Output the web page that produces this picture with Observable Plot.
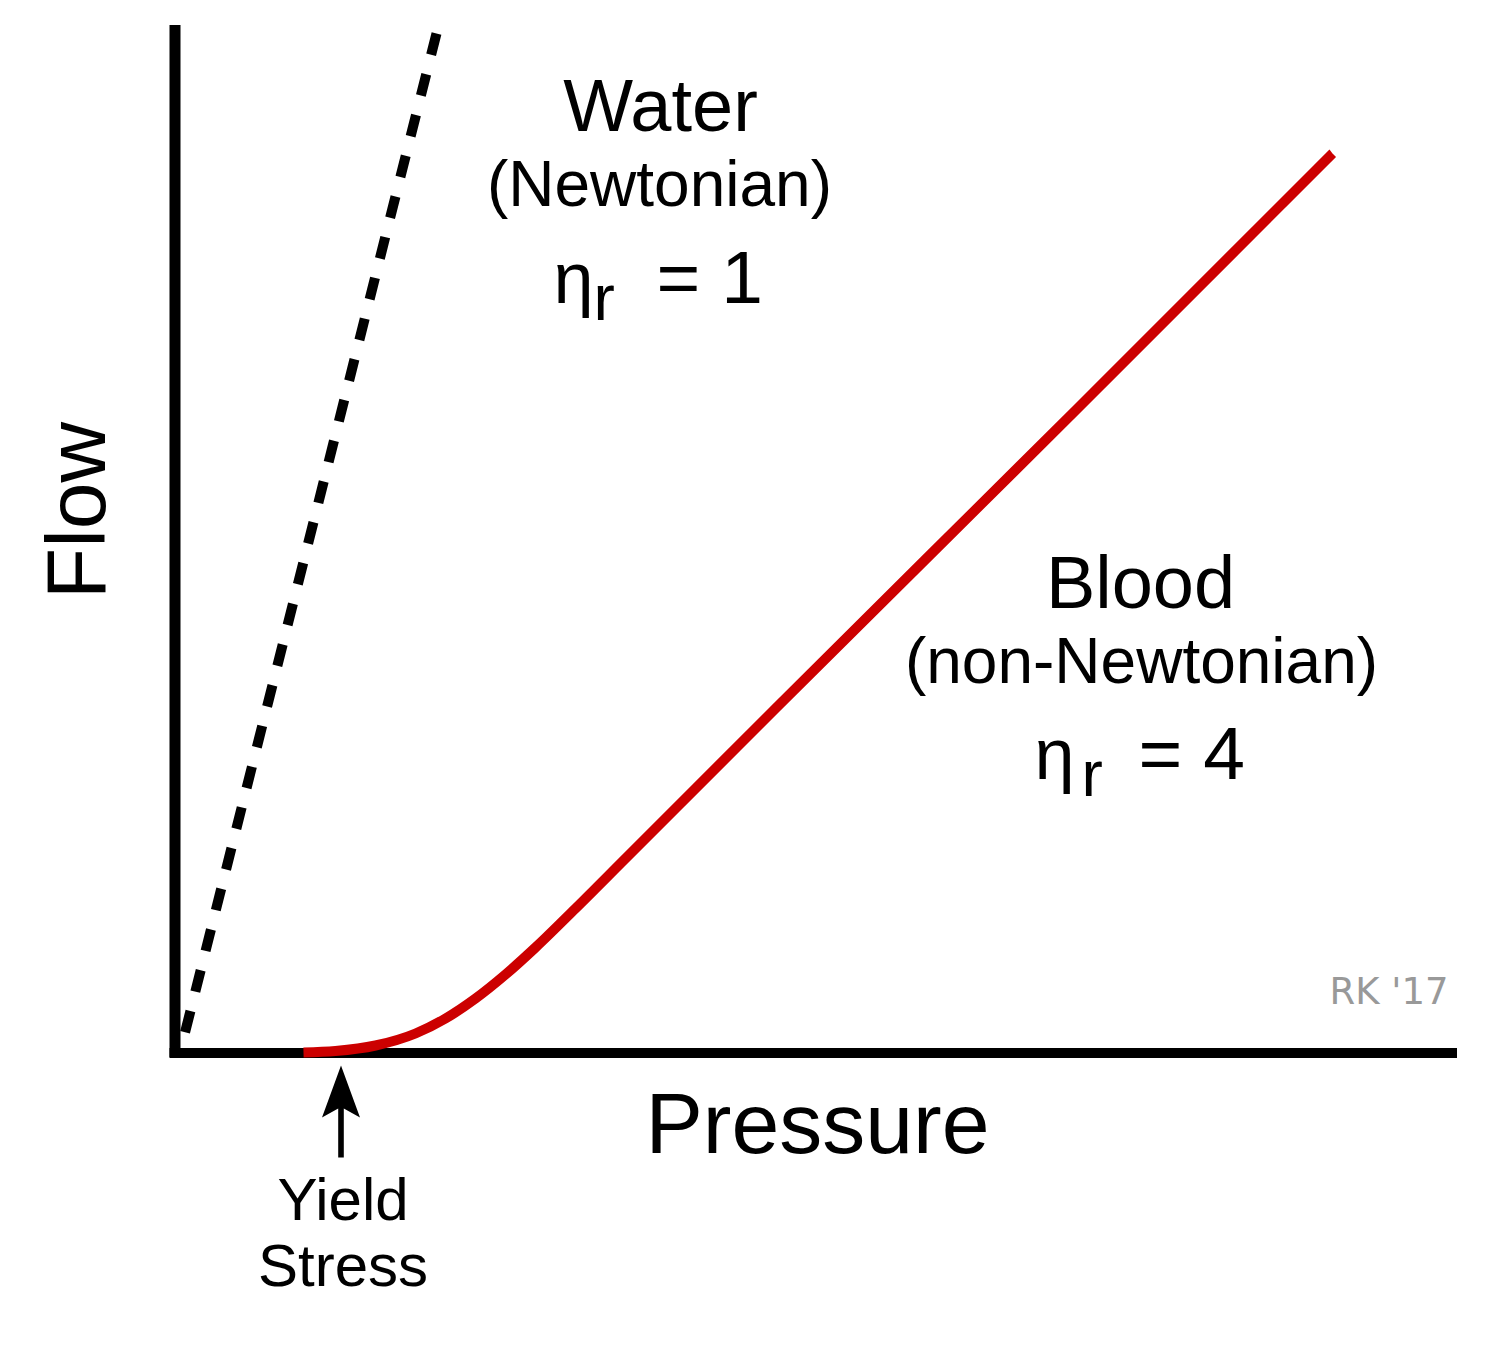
<!DOCTYPE html>
<html>
<head>
<meta charset="utf-8">
<script src="https://cdn.jsdelivr.net/npm/d3@7"></script>
<script src="https://cdn.jsdelivr.net/npm/@observablehq/plot@0.6"></script>
<style>
  html, body { margin: 0; padding: 0; background: #fff; }
  #chart svg { display: block; }
</style>
</head>
<body>
<div id="chart"></div>
<script>
// ---- data (pressure / flow in arbitrary units) ----
const waterPressure = [26.1, 0.55];
const waterFlow     = [101.9, 0.4];

const bloodPressure = [12.8, 16.0, 20.0, 24.0, 27.0, 30.0, 33.0, 36.0, 40.0, 45.0, 60.0, 90.0, 115.7];
const bloodFlow     = [0.0,  0.15, 0.7,  1.9,  3.4,  5.4,  7.8, 10.5, 14.4, 19.4, 34.4, 64.2, 89.9];

// annotation labels
const labelText = ["Water", "(Newtonian)", "Blood", "(non-Newtonian)"];
const labelX    = [48.5, 48.4, 96.5, 96.6];
const labelY    = [92.2, 84.7, 44.5, 37.0];
const labelSize = [74, 64, 74, 64];

const etaText = ["η", "η"];
const etaX    = [37.8, 85.9];
const etaY    = [75.0, 27.4];
const subText = ["r", "r"];
const subX    = [41.8, 90.6];
const subY    = [73.3, 25.7];
const eqText  = ["= 1", "= 4"];
const eqX     = [48.1, 96.3];
const eqY     = [75.0, 27.4];

const yieldText = "Yield\nStress";
const yieldX    = 16.75;
const yieldY    = -23.3;

const xTitle = "Pressure";
const yTitle = "Flow";
const credit = "RK '17";

// ---- tables built from arrays ----
const water = waterPressure.map((p, i) => ({p, f: waterFlow[i]}));
const blood = bloodPressure.map((p, i) => ({p, f: bloodFlow[i]}));
const labels = labelText.map((t, i) => ({t, x: labelX[i], y: labelY[i], s: labelSize[i]}));
const etas = etaText.map((t, i) => ({t, x: etaX[i], y: etaY[i]}));
const subs = subText.map((t, i) => ({t, x: subX[i], y: subY[i]}));
const eqs = eqText.map((t, i) => ({t, x: eqX[i], y: eqY[i]}));

const arrowShape = {
  draw(context, l) {
    const w = 2.8;
    context.moveTo(-w, 0);
    context.lineTo(-w, -(l - 43));
    context.lineTo(-19, -(l - 52));
    context.lineTo(0, -l);
    context.lineTo(19, -(l - 52));
    context.lineTo(w, -(l - 43));
    context.lineTo(w, 0);
    context.closePath();
  }
};

const font = "'Liberation Sans', Arial, Helvetica, sans-serif";

const chart = Plot.plot({
  width: 1500,
  height: 1357,
  marginLeft: 175,
  marginRight: 45,
  marginTop: 25,
  marginBottom: 305,
  x: {domain: [0, 128], axis: null},
  y: {domain: [0, 102.7], axis: null},
  style: {fontFamily: font, background: "#fff", color: "#000", overflow: "visible"},
  marks: [
    // axes
    Plot.ruleX([-0.05], {y1: -0.5, y2: 102.7, stroke: "#000", strokeWidth: 11}),
    Plot.ruleY([-0.05], {x1: -0.55, x2: 128.2, stroke: "#000", strokeWidth: 10}),
    // water (Newtonian), dotted
    Plot.line(water, {x: "p", y: "f", stroke: "#000", strokeWidth: 10,
      strokeDasharray: "22,20", strokeLinecap: "butt"}),
    // blood (non-Newtonian)
    Plot.line(blood, {x: "p", y: "f", stroke: "#cc0000", strokeWidth: 10,
      curve: "monotone-x", strokeLinecap: "butt"}),
    // annotations
    Plot.text(labels, {x: "x", y: "y", text: "t", fontSize: d => d.s,
      textAnchor: "middle", lineAnchor: "bottom", fill: "#000"}),
    Plot.text(etas, {x: "x", y: "y", text: "t", fontSize: 72,
      textAnchor: "start", lineAnchor: "bottom", fill: "#000"}),
    Plot.text(subs, {x: "x", y: "y", text: "t", fontSize: 64,
      textAnchor: "start", lineAnchor: "bottom", fill: "#000"}),
    Plot.text(eqs, {x: "x", y: "y", text: "t", fontSize: 75,
      textAnchor: "start", lineAnchor: "bottom", fill: "#000"}),
    // axis titles
    Plot.text([xTitle], {x: 64.2, y: -10.0, text: d => d, fontSize: 86,
      textAnchor: "middle", lineAnchor: "bottom", fill: "#000"}),
    Plot.text([yTitle], {x: -7.1, y: 54.2, text: d => d, fontSize: 84, rotate: -90,
      textAnchor: "middle", lineAnchor: "bottom", fill: "#000"}),
    // yield stress arrow + label
    Plot.vector([16.55], {x: d => d, y: -10.5, length: 92, anchor: "start",
      shape: arrowShape, fill: "#000", stroke: "none"}),
    Plot.text([yieldText], {x: yieldX, y: yieldY, text: d => d, fontSize: 60,
      lineHeight: 1.1, textAnchor: "middle", lineAnchor: "bottom", fill: "#000"}),
    // credit
    Plot.text([credit], {x: 127.3, y: 4.9, text: d => d, fontSize: 37,
      fontFamily: "'DejaVu Sans', sans-serif",
      textAnchor: "end", lineAnchor: "bottom", fill: "#999"})
  ]
});

document.getElementById("chart").appendChild(chart);
</script>
</body>
</html>
